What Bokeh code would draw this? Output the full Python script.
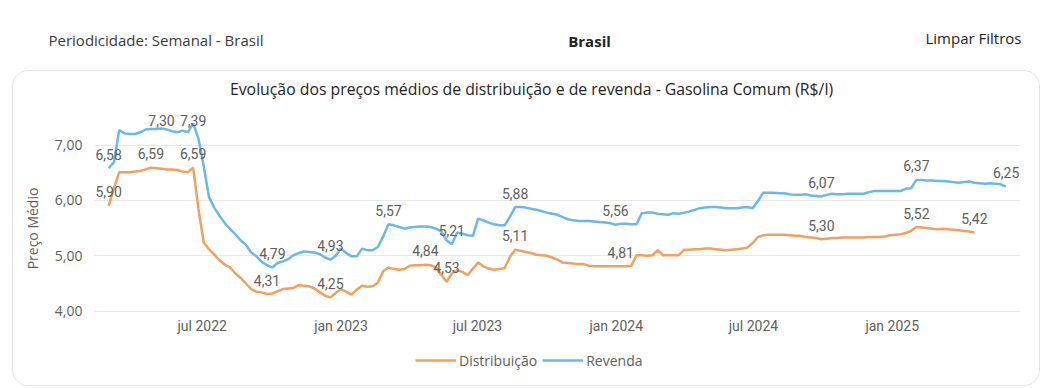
import pandas as pd
from bokeh.plotting import figure
from bokeh.models import (FixedTicker, CustomJSTickFormatter, Legend, LegendItem,
                          Label, Range1d)
from bokeh.layouts import column
from bokeh.core.properties import value
from bokeh.embed import file_html
from bokeh.resources import INLINE

# ---------------- data ----------------
START = "2022-02-27"   # first weekly survey
FREQ = "7D"

revenda = [
    6.58, 6.69, 7.27, 7.21, 7.20, 7.20, 7.23, 7.28, 7.29, 7.29,
    7.30, 7.28, 7.25, 7.23, 7.26, 7.23, 7.39, 7.12, 6.62, 6.06,
    5.87, 5.72, 5.59, 5.48, 5.39, 5.28, 5.20, 5.06, 4.99, 4.89,
    4.83, 4.79, 4.87, 4.90, 4.94, 5.01, 5.05, 5.08, 5.07, 5.06,
    5.03, 4.97, 4.93, 5.00, 5.13, 5.05, 4.99, 4.99, 5.13, 5.10,
    5.10, 5.16, 5.35, 5.57, 5.55, 5.52, 5.49, 5.51, 5.52, 5.53,
    5.53, 5.52, 5.49, 5.44, 5.28, 5.21, 5.42, 5.40, 5.37, 5.36,
    5.67, 5.64, 5.60, 5.57, 5.55, 5.55, 5.70, 5.88, 5.88, 5.87,
    5.85, 5.83, 5.81, 5.78, 5.76, 5.74, 5.70, 5.66, 5.64, 5.63,
    5.63, 5.63, 5.62, 5.61, 5.60, 5.59, 5.56, 5.58, 5.58, 5.57,
    5.57, 5.77, 5.78, 5.78, 5.76, 5.75, 5.74, 5.77, 5.76, 5.78,
    5.80, 5.83, 5.86, 5.87, 5.88, 5.88, 5.87, 5.86, 5.86, 5.86,
    5.87, 5.88, 5.86, 5.99, 6.14, 6.14, 6.14, 6.13, 6.13, 6.11,
    6.10, 6.10, 6.11, 6.09, 6.08, 6.07, 6.10, 6.12, 6.11, 6.11,
    6.12, 6.12, 6.12, 6.12, 6.15, 6.17, 6.17, 6.17, 6.17, 6.17,
    6.17, 6.21, 6.22, 6.37, 6.37, 6.36, 6.36, 6.35, 6.35, 6.34,
    6.33, 6.32, 6.33, 6.34, 6.32, 6.31, 6.30, 6.31, 6.30, 6.29,
    6.25,
]

distribuicao = [
    5.90, 6.22, 6.51, 6.51, 6.51, 6.52, 6.53, 6.56, 6.59, 6.58,
    6.57, 6.56, 6.56, 6.55, 6.52, 6.51, 6.59, 5.85, 5.24, 5.12,
    5.02, 4.92, 4.84, 4.79, 4.68, 4.60, 4.50, 4.40, 4.35, 4.34,
    4.31, 4.32, 4.36, 4.40, 4.41, 4.42, 4.47, 4.46, 4.45, 4.41,
    4.34, 4.28, 4.25, 4.33, 4.40, 4.35, 4.30, 4.39, 4.46, 4.44,
    4.45, 4.52, 4.72, 4.79, 4.76, 4.75, 4.76, 4.82, 4.83, 4.83,
    4.84, 4.83, 4.79, 4.66, 4.53, 4.68, 4.74, 4.71, 4.65, 4.77,
    4.88, 4.81, 4.77, 4.75, 4.76, 4.78, 4.98, 5.11, 5.09, 5.07,
    5.05, 5.02, 5.01, 5.00, 4.97, 4.93, 4.88, 4.87, 4.86, 4.85,
    4.85, 4.82, 4.81, 4.81, 4.81, 4.81, 4.81, 4.81, 4.81, 4.82,
    5.01, 5.01, 5.00, 5.01, 5.10, 5.01, 5.01, 5.01, 5.01, 5.11,
    5.11, 5.12, 5.12, 5.13, 5.13, 5.12, 5.11, 5.10, 5.11, 5.12,
    5.13, 5.15, 5.23, 5.34, 5.37, 5.38, 5.38, 5.38, 5.38, 5.37,
    5.36, 5.36, 5.34, 5.33, 5.32, 5.30, 5.31, 5.32, 5.32, 5.33,
    5.33, 5.33, 5.33, 5.33, 5.34, 5.34, 5.34, 5.35, 5.37, 5.38,
    5.39, 5.41, 5.45, 5.52, 5.51, 5.50, 5.49, 5.48, 5.49, 5.48,
    5.47, 5.46, 5.45, 5.44, 5.42,
]

# weeks that carry a data label
labels_revenda = [0, 10, 16, 31, 42, 53, 65, 77, 96, 135, 153, 170]
labels_distribuicao = [0, 8, 16, 30, 42, 60, 64, 77, 97, 135, 153, 164]

x_ticks = ["2022-07-01", "2023-01-01", "2023-07-01", "2024-01-01", "2024-07-01", "2025-01-01"]
x_tick_labels = ["jul 2022", "jan 2023", "jul 2023", "jan 2024", "jul 2024", "jan 2025"]
y_ticks = [4, 5, 6, 7]
y_tick_labels = ["4,00", "5,00", "6,00", "7,00"]

series_names = ["Distribuição", "Revenda"]
chart_title = "Evolução dos preços médios de distribuição e de revenda - Gasolina Comum (R$/l)"
y_title = "Preço Médio"
header_left = "Periodicidade: Semanal - Brasil"
header_center = "Brasil"
header_right = "Limpar Filtros"

# ---------------- styling ----------------
ORANGE = "#F2A062"
BLUE = "#6BB8E6"
GRAY = "#605E5C"
DARK = "#252423"
FONT = "Open Sans"
LBL_FONT = "Roboto"

dates_rev = pd.date_range(START, periods=len(revenda), freq=FREQ)
dates_dis = pd.date_range(START, periods=len(distribuicao), freq=FREQ)


def fmt(v):
    return f"{v:.2f}".replace(".", ",")


# ---------------- header ----------------
hdr = figure(width=1040, height=70, x_range=(0, 1040), y_range=(0, 70),
             x_axis_location=None, y_axis_location=None,
             output_backend="svg", toolbar_location=None, min_border=0)
hdr.frame_align = False
hdr.grid.visible = False
hdr.outline_line_color = None
hdr.text(x=[48], y=[31], text=[header_left], text_font=value(FONT),
         text_font_size="15px", text_color="#3b3a39",
         text_baseline="middle", text_align="left")
hdr.text(x=[589], y=[30], text=[header_center], text_font=value(FONT),
         text_font_size="15px", text_font_style="bold", text_color=DARK,
         text_baseline="middle", text_align="center")
hdr.text(x=[1021], y=[33], text=[header_right], text_font=value(FONT),
         text_font_size="15px", text_color=DARK,
         text_baseline="middle", text_align="right")

# ---------------- chart ----------------
# frame spans the whole box height (title and legend live inside it)
X0 = pd.Timestamp("2022-07-01")
Y0, Y1 = 2.659, 8.327
H = 316
p = figure(width=1028, height=H, x_axis_type="datetime",
           x_range=Range1d(X0 - pd.Timedelta(days=142.8), X0 + pd.Timedelta(days=1085.1)),
           y_range=Range1d(Y0, Y1),
           output_backend="svg", toolbar_location=None,
           min_border_left=81, min_border_right=21,
           min_border_top=0, min_border_bottom=2)
p.margin = (0, 0, 0, 12)
p.styles = {"border": "1px solid #E3E3E3", "border-radius": "16px", "overflow": "hidden"}
p.outline_line_color = None
p.xgrid.visible = False
p.ygrid.grid_line_color = "#E8E8E8"
p.ygrid.grid_line_width = 1

tick_ms = [int(pd.Timestamp(t).value // 10**6) for t in x_ticks]
p.xaxis.ticker = FixedTicker(ticks=tick_ms)
p.xaxis.formatter = CustomJSTickFormatter(
    args=dict(tv=tick_ms, tl=x_tick_labels),
    code="const i = tv.indexOf(tick); return i >= 0 ? tl[i] : '';")
p.yaxis.ticker = FixedTicker(ticks=y_ticks)
p.yaxis.formatter = CustomJSTickFormatter(
    args=dict(tv=y_ticks, tl=y_tick_labels),
    code="const i = tv.indexOf(tick); return i >= 0 ? tl[i] : '';")

for ax in (p.xaxis, p.yaxis):
    ax.axis_line_color = None
    ax.major_tick_line_color = None
    ax.minor_tick_line_color = None
    ax.major_tick_out = 0
    ax.major_tick_in = 0
    ax.minor_tick_out = 0
    ax.minor_tick_in = 0
    ax.major_label_text_color = GRAY
    ax.major_label_text_font = FONT
p.xaxis.major_label_text_font = LBL_FONT
p.xaxis.major_label_text_font_size = "14px"
p.xaxis.major_label_standoff = -68   # labels sit just under the 4,00 grid line
p.yaxis.major_label_text_font_size = "14px"
p.yaxis.major_label_standoff = 12
p.yaxis.axis_label = y_title
p.yaxis.axis_label_text_font = FONT
p.yaxis.axis_label_text_font_style = "normal"
p.yaxis.axis_label_text_font_size = "14px"
p.yaxis.axis_label_text_color = GRAY
p.yaxis.axis_label_standoff = 10

r_dis = p.line(dates_dis, distribuicao, line_color=ORANGE, line_width=2.5)
r_rev = p.line(dates_rev, revenda, line_color=BLUE, line_width=2.5)

# data labels: 14px above the point, but never above the plot's top label row
px_per_unit = (H - 2) / (Y1 - Y0)
LABEL_TOP = 49          # px below the frame top where the highest labels sit


def label_offset(v):
    py = (Y1 - v) * px_per_unit
    return max(-14.0, LABEL_TOP - py)


for dates, vals, idx in ((dates_rev, revenda, labels_revenda),
                         (dates_dis, distribuicao, labels_distribuicao)):
    p.text(x=[dates[i] for i in idx], y=[vals[i] for i in idx],
           text=[fmt(vals[i]) for i in idx], text_font=value(LBL_FONT),
           text_font_size="14px", text_color=GRAY, text_align="center",
           text_baseline="middle", y_offset=[label_offset(vals[i]) for i in idx])

p.add_layout(Label(x=437, y=297, x_units="screen", y_units="screen",
                   text=chart_title, text_align="center", text_baseline="middle",
                   text_font=FONT, text_font_size="15.8px", text_color=DARK))

legend = Legend(items=[LegendItem(label=series_names[0], renderers=[r_dis]),
                       LegendItem(label=series_names[1], renderers=[r_rev])],
                orientation="horizontal", location=(321, 15),
                glyph_width=41, glyph_height=20, label_height=20,
                label_standoff=3, spacing=5, padding=0, margin=0,
                border_line_alpha=0, background_fill_alpha=0,
                label_text_font=FONT, label_text_font_size="14px",
                label_text_color=GRAY)
p.add_layout(legend, "center")

layout = column(hdr, p)
open("out.html", "w").write(file_html(layout, INLINE))
